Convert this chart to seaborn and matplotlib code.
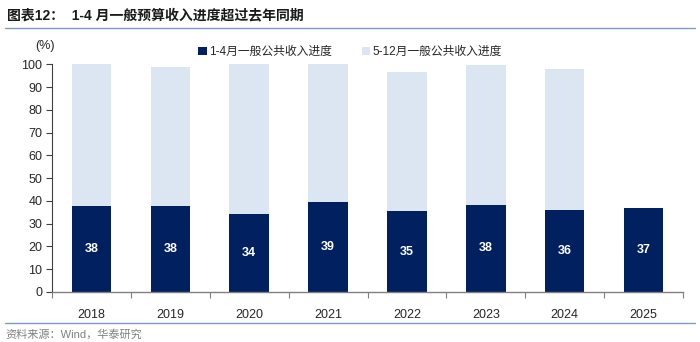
import numpy as np
import pandas as pd
import matplotlib
matplotlib.use("Agg")
import matplotlib.pyplot as plt
import seaborn as sns
from matplotlib.patches import Patch
from matplotlib.lines import Line2D

years = ["2018", "2019", "2020", "2021", "2022", "2023", "2024", "2025"]
jan_apr = [37.7, 37.8, 34.4, 39.4, 35.4, 38.4, 36.2, 36.7]
may_dec = [62.3, 60.8, 65.6, 60.6, 61.2, 61.3, 61.7, 0.0]
labels = ["38", "38", "34", "39", "35", "38", "36", "37"]

legend_names = ["1-4月一般公共收入进度", "5-12月一般公共收入进度"]
title_text = "图表12：  1-4 月一般预算收入进度超过去年同期"
source_text = "资料来源：Wind，华泰研究"

DARK = "#002060"
LIGHT = "#DCE6F2"

sns.set_theme(style="white")
plt.rcParams['font.family'] = ['Liberation Sans', 'Noto Sans CJK SC', 'DejaVu Sans']

df = pd.DataFrame({"year": years, "jan_apr": jan_apr, "may_dec": may_dec})
df["total"] = df["jan_apr"] + df["may_dec"]

fig = plt.figure(figsize=(7.0, 3.42), dpi=100)
ax = fig.add_axes([0.0743, 0.1462, 0.9014, 0.666])

sns.barplot(data=df, x="year", y="total", color=LIGHT, width=0.5,
            saturation=1, ax=ax, edgecolor="none")
sns.barplot(data=df, x="year", y="jan_apr", color=DARK, width=0.5,
            saturation=1, ax=ax, edgecolor="none")

for i, (v, lab) in enumerate(zip(df["jan_apr"], labels)):
    ax.text(i, v / 2, lab, ha="center", va="center", color="white",
            fontsize=9, fontweight="bold")

ax.set_xlim(-0.5, len(years) - 0.5)
ax.set_ylim(0, 100)
ax.set_yticks(np.arange(0, 101, 10))
ax.set_xlabel("")
ax.set_ylabel("")
for s in ["top", "right"]:
    ax.spines[s].set_visible(False)
ax.spines["left"].set_color("#404040")
ax.spines["bottom"].set_color("#808080")
ax.spines["left"].set_linewidth(0.8)
ax.spines["bottom"].set_linewidth(1.0)
ax.tick_params(axis="y", which="both", left=True, length=4, width=0.8,
               color="#404040", labelsize=9, pad=3)
ax.set_xticks(range(len(years)))
ax.set_xticklabels(years)
ax.tick_params(axis="x", which="major", bottom=False, labelsize=9, pad=6)
ax.set_xticks(np.arange(-0.5, len(years), 1.0), minor=True)
ax.tick_params(axis="x", which="minor", bottom=True, length=4, width=0.8,
               color="#808080")

fig.text(45 / 700, 1 - 46 / 342, "(%)", ha="center", va="center", fontsize=9)

handles = [Patch(facecolor=DARK, edgecolor="none"),
           Patch(facecolor=LIGHT, edgecolor="none")]
fig.legend(handles, legend_names, loc="center", bbox_to_anchor=(350 / 700, 1 - 52 / 342),
           ncol=2, frameon=False, fontsize=8.5, handlelength=0.7, handleheight=0.7,
           handletextpad=0.2, columnspacing=2.5)

fig.text(7 / 700, 1 - 15 / 342, title_text, ha="left", va="center",
         fontsize=10, fontweight="bold", color="#1a1a1a")
fig.add_artist(Line2D([5 / 700, 695 / 700], [1 - 28 / 342, 1 - 28 / 342],
                      color="#7F9CC8", linewidth=1.0))
fig.add_artist(Line2D([5 / 700, 695 / 700], [1 - 323 / 342, 1 - 323 / 342],
                      color="#7F9CC8", linewidth=1.0))
fig.text(5 / 700, 1 - 334 / 342, source_text, ha="left", va="center",
         fontsize=8, color="#808080")

fig.savefig("out.png", dpi=100)
